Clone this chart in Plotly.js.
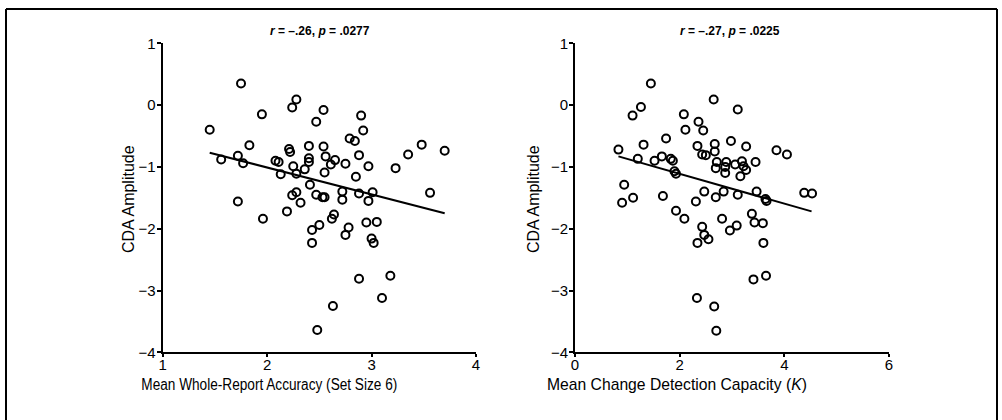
<!DOCTYPE html>
<html>
<head>
<meta charset="utf-8">
<script src="https://cdn.plot.ly/plotly-3.0.1.min.js"></script>
<style>html,body{margin:0;padding:0;background:#fff;}#chart{width:1002px;height:420px;}</style>
</head>
<body>
<div id="chart"></div>
<script>
// Left panel: Mean Whole-Report Accuracy (Set Size 6) vs CDA amplitude
const accX = [1.75,1.45,1.95,2.28,2.24,2.54,2.47,2.90,2.92,2.79,2.84,1.83,3.48,3.35,3.70,2.21,2.22,2.40,2.54,2.56,
  2.88,1.72,1.56,1.77,2.08,2.11,2.40,2.40,2.65,2.61,2.75,2.25,2.36,2.97,3.23,2.13,2.28,2.55,2.85,2.41,
  2.72,3.01,3.56,2.28,2.24,2.47,2.53,2.55,2.88,1.72,1.96,2.19,2.32,2.72,2.97,2.43,2.50,2.43,2.62,2.64,
  2.78,2.75,2.95,3.05,3.00,3.02,2.88,3.18,3.10,2.63,2.48];
const accY = [0.35,-0.40,-0.15,0.09,-0.04,-0.08,-0.27,-0.17,-0.41,-0.54,-0.58,-0.65,-0.64,-0.80,-0.74,-0.71,-0.76,-0.66,-0.67,-0.83,
  -0.81,-0.82,-0.88,-0.94,-0.90,-0.92,-0.86,-0.92,-0.89,-0.96,-0.95,-0.99,-1.04,-0.99,-1.02,-1.12,-1.11,-1.09,-1.16,-1.29,
  -1.40,-1.41,-1.42,-1.41,-1.46,-1.45,-1.49,-1.49,-1.43,-1.56,-1.84,-1.72,-1.58,-1.53,-1.55,-2.02,-1.94,-2.23,-1.84,-1.77,
  -1.98,-2.10,-1.90,-1.89,-2.16,-2.23,-2.81,-2.76,-3.12,-3.25,-3.64];
const accFitX = [1.45, 3.70];
const accFitY = [-0.77, -1.75];

// Right panel: Mean Change Detection Capacity (K) vs CDA amplitude
const capX = [1.45,1.26,1.10,2.65,3.11,2.08,2.36,2.45,2.11,1.74,2.98,1.31,0.83,2.34,2.67,2.67,3.27,3.85,4.05,2.43,
  2.50,1.20,1.66,1.52,1.83,1.87,2.71,2.69,2.89,2.87,2.87,3.06,3.19,3.22,3.27,3.45,3.16,1.90,1.93,0.94,
  0.90,1.11,1.68,2.47,2.31,2.69,2.84,3.11,3.47,3.64,3.66,4.38,4.53,1.93,2.09,2.43,2.47,2.55,2.34,2.81,
  2.96,3.09,3.38,3.43,3.59,3.60,3.41,3.65,2.33,2.66,2.70];
const capY = [0.35,-0.03,-0.17,0.09,-0.07,-0.15,-0.27,-0.41,-0.40,-0.54,-0.58,-0.64,-0.72,-0.66,-0.63,-0.75,-0.67,-0.73,-0.80,-0.80,
  -0.81,-0.87,-0.83,-0.90,-0.87,-0.90,-0.92,-1.02,-0.92,-1.00,-1.10,-0.96,-0.91,-0.99,-1.05,-0.92,-1.15,-1.07,-1.11,-1.29,
  -1.58,-1.50,-1.47,-1.40,-1.56,-1.49,-1.40,-1.45,-1.40,-1.52,-1.55,-1.42,-1.43,-1.71,-1.84,-1.97,-2.10,-2.17,-2.23,-1.84,
  -2.03,-1.95,-1.76,-1.90,-1.91,-2.23,-2.82,-2.76,-3.12,-3.26,-3.65];
const capFitX = [0.83, 4.52];
const capFitY = [-0.83, -1.72];

const accTicks = [1, 2, 3, 4];
const capTicks = [0, 2, 4, 6];
const yTicks = [1, 0, -1, -2, -3, -4];

const leftTitle = 'Mean Whole-Report Accuracy (Set Size 6)';
const rightTitle = 'Mean Change Detection Capacity (<i>K</i>)';
const yTitle = 'CDA Amplitude';
const leftStat = '<i>r</i> = \u2013.26, <i>p</i> = .0277';
const rightStat = '<i>r</i> = \u2013.27, <i>p</i> = .0225';

const FONT = '"Liberation Sans", Arial, Helvetica, sans-serif';
const W = 1002, H = 420;
const px = v => v / W;
const py = v => 1 - v / H;

const marker = {symbol: 'circle-open', size: 8, color: '#000', line: {width: 2, color: '#000'}};

const traces = [
  {x: accX, y: accY, type: 'scatter', mode: 'markers', marker: marker, xaxis: 'x', yaxis: 'y', cliponaxis: false, hoverinfo: 'skip'},
  {x: accFitX, y: accFitY, type: 'scatter', mode: 'lines', line: {color: '#000', width: 2}, xaxis: 'x', yaxis: 'y', hoverinfo: 'skip'},
  {x: capX, y: capY, type: 'scatter', mode: 'markers', marker: marker, xaxis: 'x2', yaxis: 'y2', cliponaxis: false, hoverinfo: 'skip'},
  {x: capFitX, y: capFitY, type: 'scatter', mode: 'lines', line: {color: '#000', width: 2}, xaxis: 'x2', yaxis: 'y2', hoverinfo: 'skip'}
];

const axBase = {
  showgrid: false, zeroline: false, showline: true, linecolor: '#000', linewidth: 2,
  ticks: 'outside', ticklen: 4, tickwidth: 2, tickcolor: '#000',
  tickfont: {family: FONT, size: 15, color: '#000'}, fixedrange: true
};

const yDomain = [py(352.3), py(43.3)];

const layout = {
  width: W, height: H,
  margin: {l: 0, r: 0, t: 0, b: 0},
  paper_bgcolor: '#fff', plot_bgcolor: '#fff',
  showlegend: false,
  font: {family: FONT, color: '#000'},
  xaxis: Object.assign({}, axBase, {domain: [px(162.7), px(476)], range: [1, 4], tickvals: accTicks, anchor: 'y', ticklen: 3, ticklabelstandoff: -5}),
  yaxis: Object.assign({}, axBase, {domain: yDomain, range: [-4, 1], tickvals: yTicks, anchor: 'x', ticklabelstandoff: -2}),
  xaxis2: Object.assign({}, axBase, {domain: [px(575), px(889)], range: [0, 6], tickvals: capTicks, anchor: 'y2', ticklen: 3, ticklabelstandoff: -5}),
  yaxis2: Object.assign({}, axBase, {domain: yDomain, range: [-4, 1], tickvals: yTicks, anchor: 'x2', ticklabelstandoff: -2}),
  annotations: [
    {text: leftTitle, xref: 'paper', yref: 'paper', x: px(269), y: py(384), xanchor: 'center', yanchor: 'middle', borderpad: 0, showarrow: false, font: {family: FONT, size: 16, color: '#000'}},
    {text: rightTitle, xref: 'paper', yref: 'paper', x: px(677), y: py(384), xanchor: 'center', yanchor: 'middle', borderpad: 0, showarrow: false, font: {family: FONT, size: 15.7, color: '#000'}},
    {text: yTitle, xref: 'paper', yref: 'paper', x: px(128), y: py(199), xanchor: 'center', yanchor: 'middle', textangle: -90, showarrow: false, font: {family: FONT, size: 16, color: '#000'}},
    {text: yTitle, xref: 'paper', yref: 'paper', x: px(533), y: py(199), xanchor: 'center', yanchor: 'middle', textangle: -90, showarrow: false, font: {family: FONT, size: 16, color: '#000'}},
    {text: '<b>' + leftStat + '</b>', xref: 'paper', yref: 'paper', x: px(320), y: py(31), xanchor: 'center', yanchor: 'middle', showarrow: false, font: {family: FONT, size: 12, color: '#000'}},
    {text: '<b>' + rightStat + '</b>', xref: 'paper', yref: 'paper', x: px(730), y: py(31), xanchor: 'center', yanchor: 'middle', showarrow: false, font: {family: FONT, size: 12, color: '#000'}}
  ],
  shapes: [
    {type: 'line', xref: 'paper', yref: 'paper', x0: px(6), x1: px(997), y0: py(9), y1: py(9), line: {color: '#000', width: 2}},
    {type: 'line', xref: 'paper', yref: 'paper', x0: px(6), x1: px(6), y0: py(9), y1: py(420), line: {color: '#000', width: 2}},
    {type: 'line', xref: 'paper', yref: 'paper', x0: px(997), x1: px(997), y0: py(9), y1: py(420), line: {color: '#000', width: 2}}
  ]
};

// Target rendered width for the condensed-looking left x-axis title in the reference
const titleWidths = {0: 256};

Plotly.newPlot('chart', traces, layout, {displayModeBar: false, staticPlot: true}).then(function (gd) {
  Object.keys(titleWidths).forEach(function (idx) {
    const t = gd.querySelector('g.annotation[data-index="' + idx + '"] text.annotation-text');
    if (t) {
      t.setAttribute('textLength', titleWidths[idx]);
      t.setAttribute('lengthAdjust', 'spacingAndGlyphs');
    }
  });
});
</script>
</body>
</html>
